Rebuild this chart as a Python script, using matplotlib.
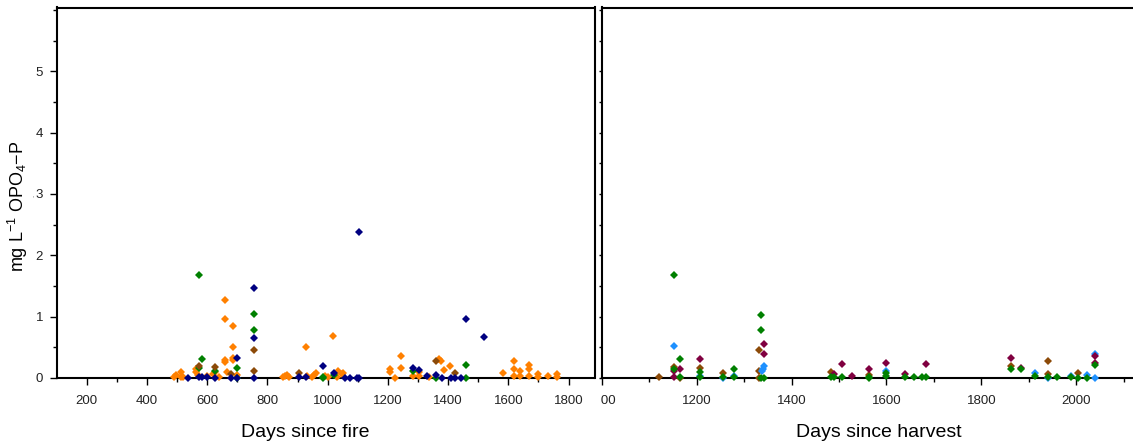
import matplotlib.pyplot as plt
from matplotlib.patches import Rectangle
from matplotlib.ticker import MultipleLocator

plt.rcParams['font.family'] = ['Liberation Sans', 'DejaVu Sans']
plt.rcParams['mathtext.fontset'] = 'custom'
plt.rcParams['mathtext.rm'] = 'Liberation Sans'
plt.rcParams['mathtext.it'] = 'Liberation Sans:italic'

# Post-fire sites (days since fire, mg/L)
fire_orange_x = [490, 497, 513, 513, 520, 562, 562, 568, 600, 620, 627, 640, 659, 659, 659, 659,
                 665, 687, 687, 687, 687, 700, 850, 858, 866, 870, 927, 930, 948, 955, 962, 990,
                 1000, 1018, 1030, 1035, 1046, 1052, 1207, 1207, 1224, 1243, 1243, 1282, 1303,
                 1303, 1335, 1371, 1376, 1385, 1405, 1581, 1620, 1620, 1620, 1638, 1638, 1667,
                 1667, 1667, 1700, 1700, 1730, 1761, 1761]
fire_orange_y = [0.01, 0.05, 0.10, 0.02, 0.01, 0.15, 0.10, 0.05, 0.03, 0.06, 0.10, 0.02, 1.27, 0.96,
                 0.29, 0.26, 0.10, 0.84, 0.50, 0.33, 0.30, 0.05, 0.01, 0.03, 0.05, 0.01, 0.50, 0.04,
                 0.01, 0.05, 0.08, 0.03, 0.02, 0.68, 0.02, 0.12, 0.06, 0.08, 0.14, 0.10, 0.00, 0.36,
                 0.17, 0.03, 0.10, 0.03, 0.02, 0.31, 0.28, 0.13, 0.20, 0.08, 0.27, 0.15, 0.03, 0.11,
                 0.03, 0.22, 0.14, 0.03, 0.06, 0.01, 0.04, 0.07, 0.01]

fire_green_x = [574, 574, 584, 627, 700, 700, 755, 755, 983, 983, 1020, 1282, 1360, 1460, 1460]
fire_green_y = [1.675, 0.17, 0.31, 0.12, 0.17, 0.00, 1.04, 0.78, 0.02, 0.00, 0.05, 0.12, 0.00,
                0.22, 0.00]

fire_navy_x = [537, 574, 584, 600, 627, 678, 700, 700, 755, 755, 755, 906, 927, 983, 1020, 1056,
               1075, 1097, 1103, 1103, 1282, 1303, 1331, 1360, 1380, 1411, 1423, 1442, 1460, 1520]
fire_navy_y = [0.00, 0.02, 0.02, 0.01, 0.00, 0.00, 0.32, 0.00, 1.47, 0.66, 0.00, 0.02, 0.02, 0.20,
               0.08, 0.00, 0.00, 0.00, 2.38, 0.00, 0.16, 0.13, 0.03, 0.05, 0.00, 0.00, 0.00, 0.00,
               0.96, 0.67]

fire_brown_x = [574, 627, 678, 755, 755, 906, 1360, 1423]
fire_brown_y = [0.20, 0.18, 0.06, 0.45, 0.12, 0.08, 0.27, 0.08]

# Harvested sites (days since harvest, mg/L)
harv_green_x = [1153, 1153, 1165, 1165, 1207, 1207, 1256, 1279, 1279, 1335, 1335, 1335, 1342,
                1484, 1490, 1506, 1563, 1563, 1599, 1599, 1639, 1657, 1674, 1683, 1862, 1883,
                1913, 1941, 1959, 1989, 2004, 2022, 2039]
harv_green_y = [1.675, 0.15, 0.31, 0.02, 0.10, 0.02, 0.02, 0.15, 0.01, 1.03, 0.78, 0.00, 0.00,
                0.01, 0.01, 0.01, 0.02, 0.00, 0.08, 0.04, 0.01, 0.01, 0.01, 0.01, 0.15, 0.14,
                0.04, 0.01, 0.01, 0.01, 0.00, 0.00, 0.21]

harv_blue_x = [1153, 1207, 1256, 1279, 1342, 1340, 1338, 1599, 1913, 1941, 1989, 2022, 2039, 2039]
harv_blue_y = [0.52, 0.03, 0.00, 0.04, 0.20, 0.15, 0.12, 0.12, 0.08, 0.00, 0.03, 0.05, 0.39, 0.00]

harv_purple_x = [1153, 1153, 1165, 1207, 1342, 1342, 1490, 1506, 1528, 1563, 1599, 1639, 1683,
                 1862, 1883, 2039, 2039]
harv_purple_y = [0.11, 0.01, 0.15, 0.31, 0.55, 0.39, 0.07, 0.23, 0.04, 0.14, 0.25, 0.07, 0.23,
                 0.33, 0.16, 0.36, 0.25]

harv_brown_x = [1121, 1153, 1165, 1207, 1256, 1332, 1332, 1332, 1484, 1563, 1862, 1941, 1941, 2004]
harv_brown_y = [0.01, 0.18, 0.00, 0.17, 0.08, 0.45, 0.12, 0.00, 0.09, 0.05, 0.19, 0.27, 0.07, 0.08]

W, H = 1133, 445
fig = plt.figure(figsize=(W / 100, H / 100), dpi=100)

ax1 = fig.add_axes([57 / W, (H - 378) / H, 537.5 / W, 370.5 / H])
ax2 = fig.add_axes([601.7 / W, (H - 378) / H, 552 / W, 370.5 / H])

ORANGE, GREEN, NAVY, BROWN = '#ff8000', '#008000', '#000080', '#8c4a08'
BLUE, PURPLE = '#1e90ff', '#800040'


def dots(ax, x, y, color):
    ax.plot(x, y, 'D', color=color, ms=3.8, mew=0, clip_on=False, zorder=4)


dots(ax1, fire_orange_x, fire_orange_y, ORANGE)
dots(ax1, fire_green_x, fire_green_y, GREEN)
dots(ax1, fire_brown_x, fire_brown_y, BROWN)
dots(ax1, fire_navy_x, fire_navy_y, NAVY)

dots(ax2, harv_brown_x, harv_brown_y, BROWN)
dots(ax2, harv_blue_x, harv_blue_y, BLUE)
dots(ax2, harv_purple_x, harv_purple_y, PURPLE)
dots(ax2, harv_green_x, harv_green_y, GREEN)

ax1.set_xlim(101, 1886)
ax2.set_xlim(1000, 2163)

for ax in (ax1, ax2):
    ax.set_ylim(0, 6.04)
    for s in ax.spines.values():
        s.set_linewidth(1.5)
    ax.xaxis.set_major_locator(MultipleLocator(200))
    ax.xaxis.set_minor_locator(MultipleLocator(100))
    ax.yaxis.set_major_locator(MultipleLocator(1))
    ax.yaxis.set_minor_locator(MultipleLocator(0.5))
    ax.tick_params(axis='x', which='major', direction='out', length=5, width=1,
                   pad=7, labelsize=9.5, labelcolor='#222222')
    ax.tick_params(axis='x', which='minor', direction='out', length=3, width=1)
    ax.tick_params(axis='y', which='major', direction='out', length=5, width=1,
                   pad=5, labelsize=9.5, labelcolor='#222222')
    ax.tick_params(axis='y', which='minor', direction='out', length=3, width=1)

ax1.set_yticks([0, 1, 2, 3, 4, 5])
ax2.tick_params(axis='y', which='both', length=2.5, labelleft=False)
ax2.spines['right'].set_visible(False)

# hide the part of the right panel's first x label that runs under the left panel
fig.add_artist(Rectangle((584 / W, 0), (600.5 - 584) / W, 60 / H,
                         transform=fig.transFigure, facecolor='white',
                         edgecolor='none', zorder=10))

fig.text(305.5 / W, (H - 436.7) / H, 'Days since fire', ha='center', va='baseline',
         fontsize=14)
fig.text(879 / W, (H - 436.7) / H, 'Days since harvest', ha='center', va='baseline',
         fontsize=14)
fig.text(18 / W, (H - 206) / H,
         r'mg L$^{\mathregular{-1}}$ OPO$_{\mathregular{4}}$$\mathregular{-}$P',
         rotation=90, ha='center', va='center', fontsize=13)
# small charge dash tucked under the start of the species name
fig.text(34 / W, (H - 196) / H, '-', rotation=90, ha='center', va='center',
         fontsize=5, color='#888888')

fig.savefig('out.png', dpi=100)
